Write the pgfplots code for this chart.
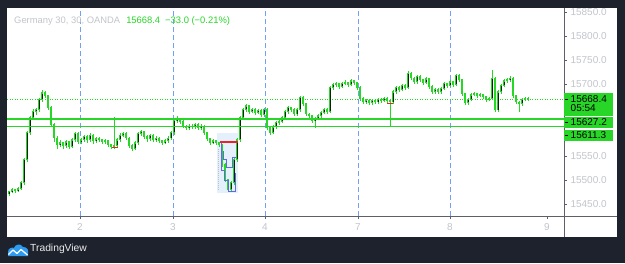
\documentclass[border=0pt]{standalone}
\usepackage{pgfplots}
\pgfplotsset{compat=1.18}
\usepackage{pgfplotstable}
\usepackage{fontspec}
\setmainfont{Liberation Sans}
\definecolor{bg}{HTML}{1E222D}
\definecolor{cgreen}{RGB}{40,214,40}
\definecolor{cdark}{RGB}{10,34,10}
\definecolor{tgray}{HTML}{C3C5CC}
\definecolor{axgray}{HTML}{5D606B}
\definecolor{sepblue}{RGB}{115,160,245}
\definecolor{redmark}{RGB}{235,35,40}
\definecolor{stepblue}{RGB}{95,105,225}
\definecolor{shade}{RGB}{228,240,252}
\definecolor{logoblue}{RGB}{45,155,240}

\pgfplotstableread{
x o h l c
9 15470 15478 15466 15475
12 15475 15483 15472 15479
15 15479 15482 15473 15477
18 15477 15486 15475 15481
21 15481 15498 15479 15494
24 15494 15546 15490 15542
27 15542 15602 15538 15598
30 15598 15633 15594 15629
33 15629 15648 15625 15642
36 15642 15650 15636 15646
39 15646 15671 15642 15667
42 15667 15688 15663 15681
45 15681 15685 15670 15675
48 15675 15678 15646 15650
51 15650 15654 15610 15615
54 15615 15619 15580 15587
57 15587 15592 15565 15573
60 15573 15583 15568 15577
63 15577 15580 15564 15571
66 15571 15584 15567 15579
69 15579 15582 15565 15569
72 15569 15588 15566 15583
75 15583 15600 15579 15596
78 15596 15599 15575 15579
81 15579 15587 15574 15583
84 15583 15594 15579 15590
87 15590 15593 15578 15583
90 15583 15597 15580 15592
93 15592 15595 15576 15581
96 15581 15590 15578 15585
99 15585 15589 15579 15583
102 15583 15586 15574 15579
105 15579 15586 15575 15581
108 15581 15584 15568 15573
111 15573 15576 15564 15569
114 15569 15631 15565 15571
117 15571 15587 15568 15583
120 15583 15597 15580 15592
123 15592 15600 15589 15596
126 15596 15599 15583 15587
129 15587 15590 15566 15571
132 15571 15574 15560 15565
135 15565 15581 15562 15577
138 15577 15600 15573 15596
141 15596 15604 15592 15600
144 15600 15603 15586 15590
147 15590 15594 15580 15585
150 15585 15596 15581 15592
153 15592 15595 15579 15583
156 15583 15591 15580 15587
159 15587 15590 15577 15581
162 15581 15584 15573 15577
165 15577 15585 15574 15581
168 15581 15591 15578 15587
171 15587 15602 15584 15598
174 15598 15627 15594 15623
177 15623 15633 15619 15627
180 15627 15630 15617 15621
183 15621 15624 15608 15612
186 15612 15615 15604 15608
189 15608 15617 15605 15612
192 15612 15616 15606 15610
195 15610 15619 15607 15615
198 15615 15618 15604 15608
201 15608 15616 15605 15612
204 15612 15615 15594 15598
207 15598 15601 15581 15585
210 15585 15588 15573 15577
213 15577 15586 15574 15581
216 15581 15584 15573 15577
219 15577 15580 15569 15573
222 15573 15576 15527 15531
225 15531 15535 15496 15500
228 15500 15503 15475 15479
231 15479 15498 15476 15494
234 15494 15546 15490 15542
237 15542 15587 15538 15583
240 15583 15633 15579 15629
243 15629 15650 15625 15646
246 15646 15658 15642 15654
249 15654 15657 15638 15642
252 15642 15650 15639 15646
255 15646 15649 15636 15640
258 15640 15648 15637 15644
261 15644 15647 15631 15635
264 15635 15650 15632 15646
267 15646 15649 15604 15608
270 15608 15612 15594 15598
273 15598 15614 15595 15610
276 15610 15623 15607 15619
279 15619 15625 15615 15621
282 15621 15633 15618 15629
285 15629 15646 15625 15642
288 15642 15654 15638 15650
291 15650 15653 15642 15646
294 15646 15649 15633 15637
297 15637 15650 15634 15646
300 15646 15675 15642 15671
303 15671 15674 15654 15658
306 15658 15661 15633 15637
309 15637 15640 15629 15633
312 15633 15636 15619 15623
315 15623 15631 15608 15627
318 15627 15637 15624 15633
321 15633 15644 15630 15640
324 15640 15650 15637 15646
327 15646 15649 15638 15642
330 15642 15696 15639 15692
333 15692 15702 15688 15698
336 15698 15704 15694 15700
339 15700 15703 15690 15694
342 15694 15704 15691 15700
345 15700 15708 15697 15702
348 15702 15705 15694 15698
351 15698 15710 15695 15706
354 15706 15709 15698 15702
357 15702 15705 15688 15692
360 15692 15695 15665 15669
363 15669 15672 15658 15662
366 15662 15669 15659 15665
369 15665 15668 15656 15660
372 15660 15669 15657 15665
375 15665 15668 15658 15662
378 15662 15671 15659 15667
381 15667 15670 15661 15665
384 15665 15673 15662 15669
387 15669 15672 15661 15665
390 15665 15668 15610 15662
393 15662 15687 15659 15683
396 15683 15696 15680 15692
399 15692 15695 15684 15688
402 15688 15700 15685 15696
405 15696 15699 15688 15692
408 15692 15727 15689 15721
411 15721 15724 15708 15712
414 15712 15715 15700 15704
417 15704 15719 15701 15715
420 15715 15718 15704 15708
423 15708 15711 15698 15702
426 15702 15714 15699 15710
429 15710 15713 15690 15694
432 15694 15697 15679 15683
435 15683 15692 15680 15688
438 15688 15691 15679 15683
441 15683 15694 15680 15690
444 15690 15704 15687 15700
447 15700 15703 15692 15696
450 15696 15708 15693 15704
453 15704 15707 15694 15698
456 15698 15721 15695 15717
459 15717 15720 15704 15708
462 15708 15711 15675 15679
465 15679 15682 15656 15660
468 15660 15671 15657 15667
471 15667 15681 15664 15677
474 15677 15683 15674 15679
477 15679 15682 15671 15675
480 15675 15681 15672 15677
483 15677 15680 15669 15673
486 15673 15676 15663 15667
489 15667 15673 15664 15669
492 15669 15729 15666 15712
495 15712 15715 15642 15645
498 15645 15687 15642 15683
501 15683 15700 15680 15696
504 15696 15710 15693 15706
507 15706 15712 15703 15708
510 15708 15716 15705 15712
513 15712 15715 15671 15675
516 15675 15678 15658 15662
519 15662 15665 15642 15658
522 15658 15671 15655 15667
525 15667 15673 15664 15669
528 15669 15672 15664 15668.4
}\candles

\begin{document}
\begin{tikzpicture}[x=1pt,y=1pt]
\fill[bg] (0,0) rectangle (625,263);
\fill[white] (7,26) rectangle (617,255);
\begin{axis}[
  at={(7pt,47pt)}, anchor=south west,
  scale only axis, width=557pt, height=208pt,
  xmin=7, xmax=564, ymin=15425, ymax=15858.33,
  axis line style={draw=none},
  xtick={80,173,265,358,450}, xticklabels={2,3,4,7,8},
  extra x ticks={547}, extra x tick labels={9},
  extra x tick style={grid=none},
  xmajorgrids,
  grid style={sepblue, line width=0.9pt, dash pattern=on 5pt off 3pt},
  xtick pos=bottom, ytick pos=right, yticklabel pos=right,
  tick align=outside, major tick length=3pt,
  tick style={axgray, line width=0.6pt},
  ytick={15450,15500,15550,15700,15750,15800,15850},
  scaled y ticks=false,
  /pgf/number format/assume math mode=true,
  /pgf/number format/fixed,
  /pgf/number format/fixed zerofill,
  /pgf/number format/precision=1,
  /pgf/number format/1000 sep={},
  ticklabel style={font=\fontsize{10}{12}\selectfont, text=tgray},
  xticklabel style={yshift=-1pt},
  clip=true,
]
% current price dotted line
\addplot[cgreen, line width=0.7pt, dash pattern=on 1pt off 1.5pt] coordinates {(7,15668.4) (564,15668.4)};
% shaded range box
\addplot[fill=shade, draw=none] coordinates {(217,15598) (238,15598) (238,15473) (217,15473)} -- cycle;
\addplot[gray!50, line width=0.5pt, dash pattern=on 1pt off 1pt] coordinates {(218,15565) (218,15480)};
% wicks
\addplot[draw=none, mark=none, error bars/.cd, y dir=plus, y explicit, error mark=none,
  error bar style={draw=cgreen, line width=0.7pt}]
  table[x=x, y=l, y error expr={\thisrow{h}-\thisrow{l}}] {\candles};
% bodies
\addplot[draw=none, mark=none, error bars/.cd, y dir=plus, y explicit, error mark=none,
  error bar style={draw=cgreen, line width=2.4pt}]
  table[x=x, y expr={min(\thisrow{o},\thisrow{c})}, y error expr={abs(\thisrow{c}-\thisrow{o})+1.5}] {\candles};
% dark inner body of rising candles
\addplot[draw=none, mark=none, error bars/.cd, y dir=plus, y explicit, error mark=none,
  error bar style={draw=cdark, line width=1pt}]
  table[x=x, y expr={\thisrow{o}+1.5}, y error expr={max(\thisrow{c}-\thisrow{o}-2.5,0)}] {\candles};
% step lines inside the box
\addplot[stepblue, line width=0.7pt] coordinates {(221,15577) (221,15521) (224,15521) (224,15500) (228,15500) (228,15476) (235,15476) (235,15515)};
\addplot[stepblue, line width=0.7pt] coordinates {(223,15560) (223,15542) (226,15542) (226,15527) (232,15527) (232,15548) (236,15548)};
% support lines
\addplot[cgreen, line width=1.6pt] coordinates {(7,15627.2) (564,15627.2)};
\addplot[cgreen, line width=1.6pt] coordinates {(7,15611.3) (564,15611.3)};
% red markers
\addplot[redmark, line width=1.5pt] coordinates {(220,15579) (238,15579)};
\addplot[redmark, line width=1.3pt] coordinates {(112,15567) (118,15567)};
\addplot[redmark, line width=1.3pt] coordinates {(387,15659) (393,15659)};
\end{axis}
% axis separator lines
\draw[axgray, line width=0.7pt] (564,26) -- (564,255);
\draw[axgray, line width=0.7pt] (7,47) -- (617,47);
% title
\node[anchor=west, inner sep=0pt, font=\fontsize{9.4}{11}\selectfont] at (14,241.5)
  {\textcolor{tgray}{Germany 30, 30, OANDA}\hspace{6pt}\textcolor{cgreen}{15668.4\hspace{5pt}−33.0 (−0.21\%)}};
% price labels
\fill[cgreen] (564,146.5) rectangle (613,170.3);
\fill[cgreen] (564,135) rectangle (613,146);
\fill[cgreen] (564,122) rectangle (613,133);
\draw[black, line width=0.6pt] (565,164) -- (568,164);
\draw[black, line width=0.6pt] (565,141) -- (568,141);
\draw[black, line width=0.6pt] (565,128) -- (568,128);
\node[anchor=west, inner sep=0pt, font=\fontsize{10}{12}\selectfont, text=black] at (570.5,164) {15668.4};
\node[anchor=west, inner sep=0pt, font=\fontsize{10}{12}\selectfont, text=black] at (570.5,154.5) {05:54};
\node[anchor=west, inner sep=0pt, font=\fontsize{10}{12}\selectfont, text=black] at (570.5,140.5) {15627.2};
\node[anchor=west, inner sep=0pt, font=\fontsize{10}{12}\selectfont, text=black] at (570.5,127.5) {15611.3};
% TradingView logo
\begin{scope}
\fill[logoblue] (8,7) -- (8,11) .. controls (8,15) and (12,16) .. (14,15) .. controls (15,19) and (21,20) .. (23,16) .. controls (27,16) and (29,13) .. (28,10) -- (28,7) -- cycle;
\draw[white, line width=1.3pt, line join=round] (8.5,8.5) -- (13,13) -- (17,9.5) -- (21,13.5) -- (27.5,8);
\end{scope}
\node[anchor=west, inner sep=0pt, font=\fontsize{10.3}{12}\selectfont, text=white!85!gray] at (30,14) {TradingView};
\end{tikzpicture}
\end{document}
